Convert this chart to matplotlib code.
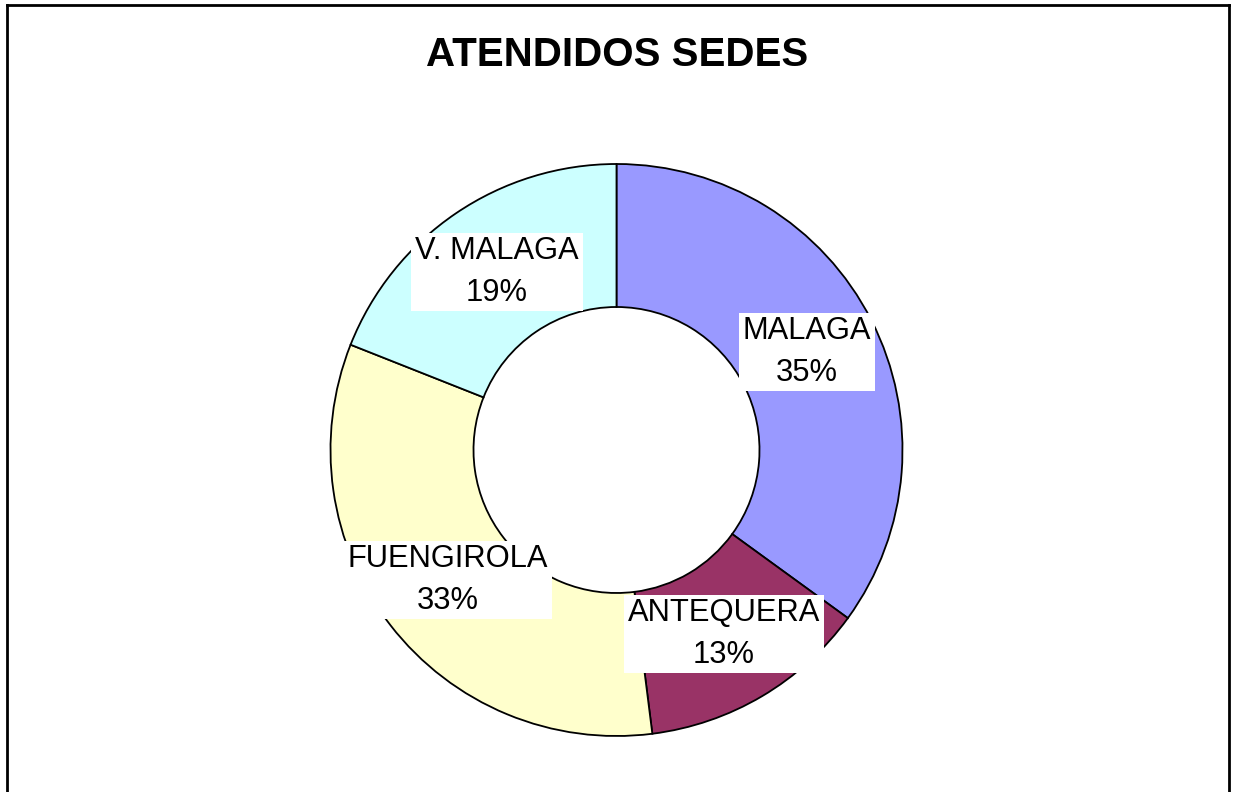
import matplotlib
matplotlib.use("Agg")
import matplotlib.pyplot as plt
from matplotlib.lines import Line2D

plt.rcParams['font.family'] = ['Liberation Sans', 'DejaVu Sans']

categories = ["MALAGA", "ANTEQUERA", "FUENGIROLA", "V. MALAGA"]
values = [35, 13, 33, 19]
colors = ["#9999FF", "#993366", "#FFFFCC", "#CCFFFF"]
title = "ATENDIDOS SEDES"
label_pos = [(807, 352), (724, 634), (448, 580), (497, 272)]  # pixel centers (top-origin)

W, H = 1234, 792
fig = plt.figure(figsize=(W / 100, H / 100), dpi=100)
ax = fig.add_axes([0, 0, 1, 1])

cx, cy, R = 616.5, H - 450, 286
ax.pie(values, colors=colors, startangle=90, counterclock=False,
       center=(cx, cy), radius=R,
       wedgeprops=dict(width=143, edgecolor='black', linewidth=1.3),
       frame=True)
ax.set_xlim(0, W)
ax.set_ylim(0, H)
ax.set_aspect('equal')
ax.axis('off')

total = sum(values)
for cat, v, (px, py) in zip(categories, values, label_pos):
    ax.text(px, H - py, f"{cat}\n{round(100 * v / total)}%", ha='center', va='center',
            fontsize=22.2, linespacing=1.48, color='black',
            bbox=dict(boxstyle='square,pad=0.12', facecolor='white', edgecolor='none'))

fig.text(617.5 / W, 1 - 55 / H, title, ha='center', va='center',
         fontsize=29, fontweight='bold')

# outer chart border (bottom edge cut off)
lw = 2
fig.add_artist(Line2D([6.5 / W, 6.5 / W], [0, 1 - 5 / H], transform=fig.transFigure, color='black', lw=lw))
fig.add_artist(Line2D([6.5 / W, 1229 / W], [1 - 5 / H, 1 - 5 / H], transform=fig.transFigure, color='black', lw=lw))
fig.add_artist(Line2D([1229 / W, 1229 / W], [0, 1 - 5 / H], transform=fig.transFigure, color='black', lw=lw))

fig.savefig("out.png", dpi=100, facecolor='white')
